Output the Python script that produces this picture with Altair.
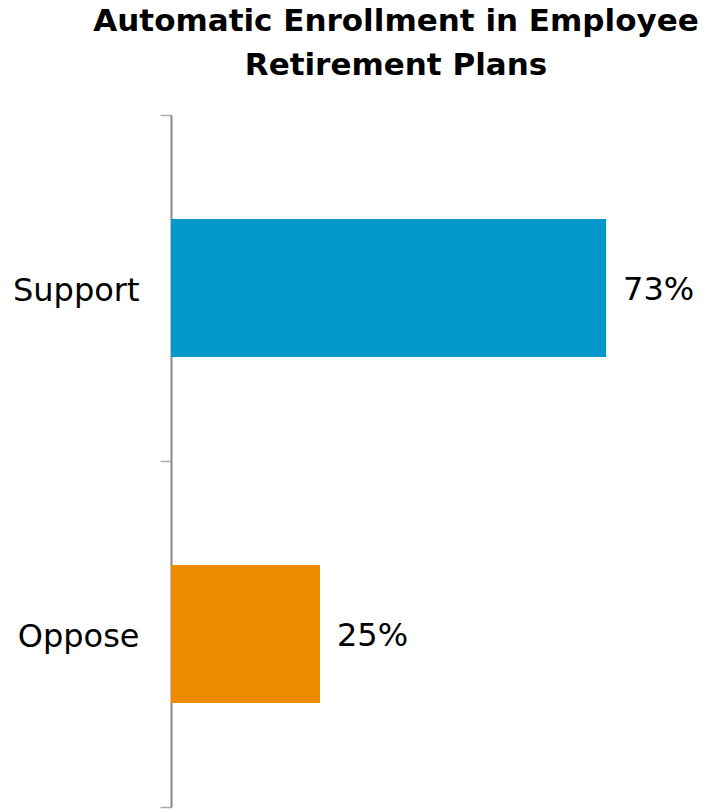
import altair as alt
import pandas as pd

categories = ["Support", "Oppose"]
values = [73, 25]
labels = ["73%", "25%"]
colors = ["#0097CA", "#EE8A00"]

df = pd.DataFrame({"cat": categories, "val": values, "lab": labels})

y = alt.Y("cat:N", sort=categories, title=None,
          scale=alt.Scale(paddingInner=0, paddingOuter=0),
          axis=alt.Axis(tickBand="extent", domainColor="#888888", domainWidth=2,
                        tickColor="#aaaaaa", tickWidth=1.5, tickSize=11,
                        labelFontSize=32, labelFont="DejaVu Sans", labelColor="#000000",
                        labelPadding=21, labelFontWeight="normal", labelOffset=2))
x = alt.X("val:Q", title=None, scale=alt.Scale(domain=[0, 75.5], nice=False), axis=None)

bars = alt.Chart(df).mark_bar(size=138).encode(
    x=x, y=y,
    color=alt.Color("cat:N", scale=alt.Scale(domain=categories, range=colors), legend=None))

text = alt.Chart(df).mark_text(align="left", baseline="middle", dx=17, dy=2, fontSize=32,
                               font="DejaVu Sans", color="#000000").encode(
    x=x, y=alt.Y("cat:N", sort=categories), text="lab:N")

chart = alt.layer(bars, text).properties(
    width=450, height=692,
    title=alt.TitleParams(["Automatic Enrollment in Employee", "Retirement Plans"],
                          fontSize=31, font="DejaVu Sans", fontWeight="bold",
                          lineHeight=44, anchor="middle", offset=17, color="#000000"),
    autosize=alt.AutoSizeParams(type="none"),
    padding={"left": 171, "top": 115, "right": 90, "bottom": 2},
).configure_view(stroke=None).configure_axis(grid=False)

chart.save("out.html", embed_options={"renderer": "svg", "actions": False})
